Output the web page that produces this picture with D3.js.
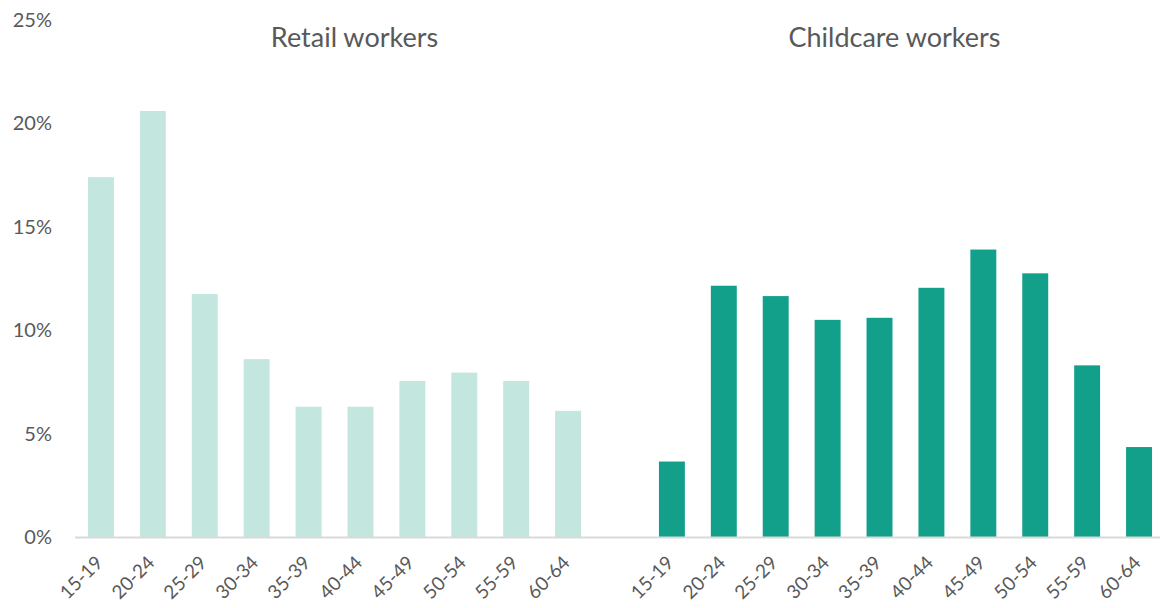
<!DOCTYPE html>
<html>
<head>
<meta charset="utf-8">
<script src="https://cdn.jsdelivr.net/npm/d3@7"></script>
<style>
  body { margin: 0; background: #fff; }
  svg { display: block; font-family: Lato, "Open Sans", sans-serif; }
</style>
</head>
<body>
<svg id="chart" width="1160" height="608"></svg>
<script>
const ageGroups = ['15-19', '20-24', '25-29', '30-34', '35-39', '40-44', '45-49', '50-54', '55-59', '60-64'];
const retailValues = [17.4, 20.6, 11.75, 8.6, 6.3, 6.3, 7.55, 7.95, 7.55, 6.1];
const childcareValues = [3.65, 12.15, 11.65, 10.5, 10.6, 12.05, 13.9, 12.75, 8.3, 4.35];
const yTicks = [0, 5, 10, 15, 20, 25];
const groupTitles = ['Retail workers', 'Childcare workers'];

const MARGINS = { top: 20, bottom: 71, left: 75, right: -5 };
const COLORS = ['#c3e6df', '#13a08b'];
const TEXT_COLOR = '#595959';

const svg = d3.select('#chart');
const width = +svg.attr('width');
const height = +svg.attr('height');

// one slot per age group, plus an empty slot between the two groups
const slots = [];
ageGroups.forEach((g, i) => slots.push({ key: 'r' + i, label: g, value: retailValues[i], series: 0 }));
slots.push({ key: 'gap', label: '', value: null, series: -1 });
ageGroups.forEach((g, i) => slots.push({ key: 'c' + i, label: g, value: childcareValues[i], series: 1 }));

const x = d3.scaleBand()
  .domain(slots.map(d => d.key))
  .range([MARGINS.left, width - MARGINS.right])
  .paddingInner(0.5)
  .paddingOuter(0.25);

const y = d3.scaleLinear()
  .domain([0, 25])
  .range([height - MARGINS.bottom, MARGINS.top]);

// y axis labels
const axisY = svg.append('g')
  .attr('transform', `translate(${MARGINS.left - 23}, 0)`)
  .call(d3.axisLeft(y).tickValues(yTicks).tickFormat(d => d + '%').tickSize(0).tickPadding(0));
axisY.select('.domain').remove();
axisY.selectAll('text')
  .attr('fill', TEXT_COLOR)
  .attr('font-size', 20)
  .attr('font-family', 'Lato, "Open Sans", sans-serif');

// bars
svg.append('g').attr('class', 'bars')
  .selectAll('rect')
  .data(slots.filter(d => d.value !== null))
  .join('rect')
  .attr('x', d => x(d.key))
  .attr('y', d => y(d.value))
  .attr('width', x.bandwidth())
  .attr('height', d => y(0) - y(d.value))
  .attr('fill', d => COLORS[d.series]);

// baseline
svg.append('line')
  .attr('x1', MARGINS.left)
  .attr('x2', width)
  .attr('y1', y(0) + 0.5)
  .attr('y2', y(0) + 0.5)
  .attr('stroke', '#d9d9d9')
  .attr('stroke-width', 2);

// x labels, rotated
svg.append('g').attr('class', 'labels-x')
  .selectAll('text')
  .data(slots.filter(d => d.label))
  .join('text')
  .attr('transform', d => `translate(${x(d.key) + x.bandwidth() / 2 + 3}, ${y(0) + 27}) rotate(-45)`)
  .attr('text-anchor', 'end')
  .attr('font-size', 19)
  .attr('fill', TEXT_COLOR)
  .text(d => d.label);

// group titles (sit slightly inward of each group's centre)
const firstKeys = ['r0', 'c0'];
const lastKeys = ['r9', 'c9'];
const titleShift = [20, -11];
svg.append('g').attr('class', 'titles')
  .selectAll('text')
  .data(groupTitles)
  .join('text')
  .attr('x', (d, i) => (x(firstKeys[i]) + x(lastKeys[i]) + x.bandwidth()) / 2 + titleShift[i])
  .attr('y', 47)
  .attr('text-anchor', 'middle')
  .attr('font-size', 27)
  .attr('fill', TEXT_COLOR)
  .text(d => d);
</script>
</body>
</html>
